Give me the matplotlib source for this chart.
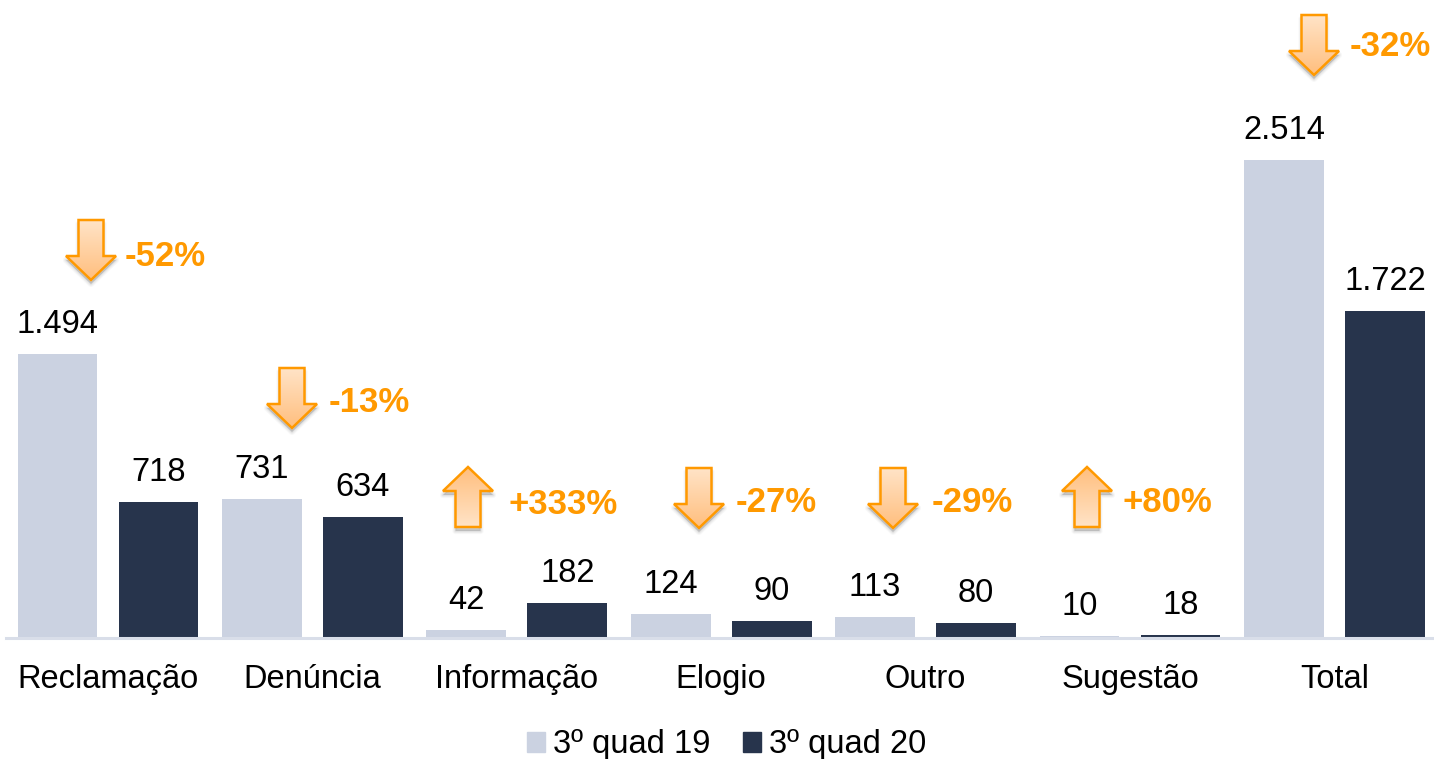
import matplotlib
matplotlib.use('Agg')
import matplotlib.pyplot as plt
import numpy as np
from matplotlib.patches import Patch, Polygon

plt.rcParams['font.family'] = ['Liberation Sans', 'DejaVu Sans']

categories = ['Reclamação', 'Denúncia', 'Informação', 'Elogio', 'Outro', 'Sugestão', 'Total']
quad_19 = [1494, 731, 42, 124, 113, 10, 2514]
quad_20 = [718, 634, 182, 90, 80, 18, 1722]
labels_19 = ['1.494', '731', '42', '124', '113', '10', '2.514']
labels_20 = ['718', '634', '182', '90', '80', '18', '1.722']
changes = ['-52%', '-13%', '+333%', '-27%', '-29%', '+80%', '-32%']

LIGHT = '#CBD2E1'
DARK = '#27344C'
ORANGE = '#FF9900'

W, H = 1434, 759
fig = plt.figure(figsize=(W / 100, H / 100), dpi=100)

# axes in pixels of the figure: baseline at y=638, 0.1901 px per unit
left, right, base = 5.8, 1434, 638
ax = fig.add_axes([left / W, (H - base) / H, (right - left) / W, 520 / H])
x = np.arange(len(categories))
ax.bar(x - 0.247, quad_19, width=0.391, color=LIGHT, label='3º quad 19')
ax.bar(x + 0.247, quad_20, width=0.391, color=DARK, label='3º quad 20')

for xi, v, s in zip(x - 0.247, quad_19, labels_19):
    ax.annotate(s, (xi, v), xytext=(0, 14), textcoords='offset pixels',
                ha='center', va='bottom', fontsize=23.5, color='black')
for xi, v, s in zip(x + 0.247, quad_20, labels_20):
    ax.annotate(s, (xi, v), xytext=(0, 14), textcoords='offset pixels',
                ha='center', va='bottom', fontsize=23.5, color='black')

ax.set_xlim(-0.5, (right - 108) / 204.4)
ax.set_ylim(0, 520 / 0.1901)
ax.set_xticks(x, categories, fontsize=23.5, color='black')
ax.set_yticks([])
ax.tick_params(axis='x', length=0, pad=19)
for side in ['top', 'right', 'left']:
    ax.spines[side].set_visible(False)
ax.spines['bottom'].set_color('#D9DEE9')
ax.spines['bottom'].set_linewidth(2.2)

handles = [Patch(color=LIGHT, label='3º quad 19'), Patch(color=DARK, label='3º quad 20')]
fig.legend(handles=handles, loc='center', bbox_to_anchor=(727 / W, 1 - 745 / H), ncols=2,
           frameon=False, fontsize=23.5, handlelength=0.55, handleheight=0.55,
           handletextpad=0.25, columnspacing=1.0, borderpad=0, borderaxespad=0)

# overlay in image pixels for the change arrows
ov = fig.add_axes([0, 0, 1, 1], zorder=5)
ov.patch.set_alpha(0)
ov.axis('off')

# (arrow centre x, arrow top y, direction, text left x, text centre y)
arrow_layout = [
    (91, 220, 'down', 125, 256),
    (292, 368, 'down', 329, 403),
    (468, 467, 'up', 508, 504),
    (699, 468, 'down', 736, 503),
    (893, 468, 'down', 932, 503),
    (1087, 467, 'up', 1123, 503),
    (1314, 15, 'down', 1350, 47),
]


def arrow_points(cx, top, direction):
    pts = np.array([(-12.5, 0), (12.5, 0), (12.5, 36), (25, 36), (0, 60), (-25, 36), (-12.5, 36)], float)
    if direction == 'up':
        pts[:, 1] = 60 - pts[:, 1]
    return pts + (cx, top)


for (cx, top, direction, tx, ty), change in zip(arrow_layout, changes):
    pts = arrow_points(cx, top, direction)
    # soft shadow
    for grow, alpha in [(3.0, 0.04), (2.0, 0.06), (1.0, 0.08), (0, 0.10)]:
        ov.add_patch(Polygon(pts + (0, 4), closed=True, fc='#555555', ec='#555555',
                             lw=grow * 1.5, alpha=alpha, joinstyle='round'))
    grad = np.linspace(0, 1, 64).reshape(-1, 1, 1)
    c_top = np.array([255, 228, 200]) / 255
    c_bot = np.array([255, 190, 125]) / 255
    if direction == 'up':
        c_top, c_bot = c_bot, c_top
    img = ov.imshow(c_top + (c_bot - c_top) * grad, extent=(cx - 27, cx + 27, top + 61, top - 1),
                    aspect='auto', zorder=3)
    outline = Polygon(pts, closed=True, fc='none', ec=ORANGE, lw=1.8, joinstyle='miter', zorder=4)
    ov.add_patch(outline)
    img.set_clip_path(outline)
    ov.text(tx, ty, change, color=ORANGE, fontsize=25, fontweight='bold',
            ha='left', va='center', zorder=6)

ov.set_xlim(0, W)
ov.set_ylim(H, 0)

fig.savefig('out.png', dpi=100)
